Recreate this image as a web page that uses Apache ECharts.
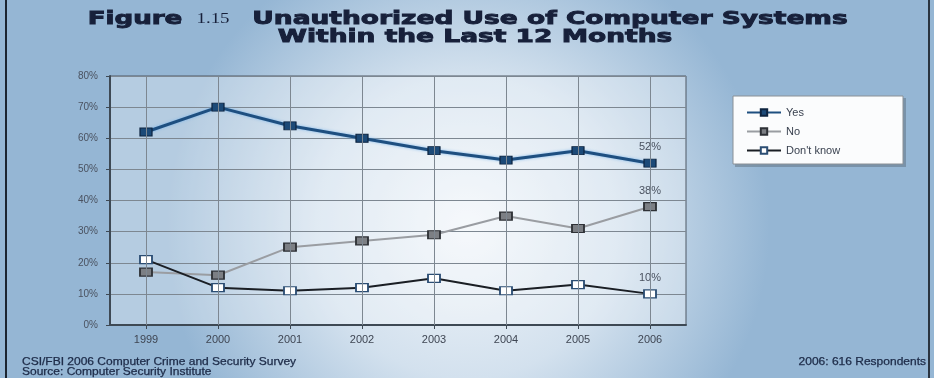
<!DOCTYPE html>
<html>
<head>
<meta charset="utf-8">
<style>
  html, body { margin: 0; padding: 0; background: #a9c4dc; }
  #chart { width: 934px; height: 378px; }
</style>
<script src="https://cdn.jsdelivr.net/npm/echarts@6/dist/echarts.min.js"></script>
</head>
<body>
<div id="chart"></div>
<script>
// Survey years and share of respondents (%)
const years = ['1999', '2000', '2001', '2002', '2003', '2004', '2005', '2006'];
const yesValues = [62, 70, 64, 60, 56, 53, 56, 52];
const noValues = [17, 16, 25, 27, 29, 35, 31, 38];
const dontKnowValues = [21, 12, 11, 12, 15, 11, 13, 10];
const seriesNames = ['Yes', 'No', "Don't know"];

const chart = echarts.init(document.getElementById('chart'), null, { renderer: 'canvas' });

const gridFont = 'Liberation Sans Narrow, Liberation Sans, Arial, sans-serif';
const titleInk = '#17203a';

// heavy, wide heading text
function heading(text, x, y, size, sx) {
  return {
    type: 'text', x: x, y: y, scaleX: sx, silent: true, z: 20,
    style: {
      text: text, textAlign: 'center', textVerticalAlign: 'top',
      fontFamily: 'DejaVu Sans', fontWeight: 'bold', fontSize: size,
      fill: titleInk, stroke: titleInk, lineWidth: 0.9
    }
  };
}

// label only the final point of a series
function lastLabel(values) {
  return {
    show: true,
    position: 'top',
    distance: 6,
    color: '#4a5260',
    fontSize: 11,
    fontFamily: gridFont,
    formatter: p => (p.dataIndex === values.length - 1 ? p.value + '%' : '')
  };
}

// vertical grid lines through each year
const yearLines = {
  silent: true,
  symbol: 'none',
  label: { show: false },
  lineStyle: { color: '#7d8791', width: 1, type: 'solid' },
  data: years.map(y => ({ xAxis: y }))
};

const option = {
  animation: false,
  graphic: [
    {
      type: 'rect', z: -10, silent: true,
      shape: { x: 0, y: 0, width: 934, height: 378 },
      style: {
        fill: {
          type: 'radial', x: 0.5, y: 0.6, r: 0.8,
          colorStops: [
            { offset: 0, color: '#f2f6fa' },
            { offset: 0.5, color: '#d3e1ee' },
            { offset: 1, color: '#95b6d4' }
          ]
        }
      }
    },
    {
      type: 'rect', z: -9, silent: true,
      shape: { x: 5, y: 0, width: 2, height: 378 },
      style: { fill: '#1b2430' }
    },
    {
      type: 'rect', z: -9, silent: true,
      shape: { x: 928, y: 0, width: 2, height: 378 },
      style: { fill: '#2a3440' }
    },
    heading('Figure', 135, 10, 18, 1.45),
    {
      type: 'text', x: 213, y: 12, scaleX: 1.35, silent: true, z: 20,
      style: {
        text: '1.15', textAlign: 'center', textVerticalAlign: 'top',
        fontFamily: 'Liberation Serif', fontSize: 14, fill: titleInk
      }
    },
    heading('Unauthorized Use of Computer Systems', 550, 10, 18, 1.47),
    heading('Within the Last 12 Months', 475, 28, 18, 1.47),
    {
      type: 'rect', silent: true, z: 4,
      shape: { x: 735, y: 98, width: 171, height: 69 },
      style: { fill: 'rgba(70,80,90,0.35)' }
    },
    {
      type: 'rect', silent: true, z: 5,
      shape: { x: 733, y: 96, width: 170, height: 68 },
      style: { fill: '#fbfcfd', stroke: '#8a9096', lineWidth: 1 }
    },
    {
      type: 'text', x: 22, y: 357, scaleX: 1.2, silent: true,
      style: {
        text: 'CSI/FBI 2006 Computer Crime and Security Survey\nSource: Computer Security Institute',
        fontFamily: 'Liberation Sans', fontSize: 10, fill: '#1d2b48', lineHeight: 10,
        stroke: '#1d2b48', lineWidth: 0.25
      }
    },
    {
      type: 'text', x: 926, y: 357, scaleX: 1.2, silent: true,
      style: {
        text: '2006: 616 Respondents', textAlign: 'right',
        fontFamily: 'Liberation Sans', fontSize: 10, fill: '#1d2b48',
        stroke: '#1d2b48', lineWidth: 0.25
      }
    }
  ],
  legend: {
    orient: 'vertical',
    left: 741,
    top: 102,
    z: 10,
    itemWidth: 34,
    itemHeight: 8,
    itemGap: 8,
    data: seriesNames,
    textStyle: { fontFamily: gridFont, fontSize: 11, color: '#3a4250' }
  },
  grid: {
    left: 110, right: 248, top: 76, bottom: 53,
    show: true,
    backgroundColor: 'rgba(255,255,255,0.3)',
    borderColor: '#4e5964', borderWidth: 1
  },
  xAxis: {
    type: 'category',
    data: years,
    boundaryGap: true,
    axisLine: { show: true, lineStyle: { color: '#3e4954', width: 2 } },
    axisTick: { show: true, alignWithLabel: true, length: 4, lineStyle: { color: '#3e4954' } },
    splitLine: { show: false },
    axisLabel: { color: '#3f4653', fontSize: 11, fontFamily: gridFont, margin: 9 }
  },
  yAxis: {
    type: 'value',
    min: 0, max: 80, interval: 10,
    axisLine: { show: true, lineStyle: { color: '#3e4954', width: 2 } },
    axisTick: { show: true, length: 4, lineStyle: { color: '#3e4954' } },
    splitLine: { show: true, lineStyle: { color: '#7d8791', width: 1 } },
    axisLabel: { color: '#4a5260', fontSize: 10, fontFamily: gridFont, margin: 12, formatter: '{value}%' }
  },
  series: [
    {
      name: 'Yes',
      type: 'line',
      data: yesValues,
      z: 4,
      symbol: 'rect', symbolSize: [12, 8],
      itemStyle: { color: '#1c4a78', borderColor: '#0e2440', borderWidth: 1 },
      lineStyle: { color: '#1e4f80', width: 3, shadowColor: 'rgba(120,180,235,0.9)', shadowBlur: 3 },
      label: lastLabel(yesValues),
      markLine: yearLines
    },
    {
      name: 'No',
      type: 'line',
      data: noValues,
      z: 3,
      symbol: 'rect', symbolSize: [12, 8],
      itemStyle: { color: '#7c7f84', borderColor: '#2e3136', borderWidth: 1.5 },
      lineStyle: { color: '#9a9da2', width: 2 },
      label: lastLabel(noValues)
    },
    {
      name: "Don't know",
      type: 'line',
      data: dontKnowValues,
      z: 3,
      symbol: 'rect', symbolSize: [12, 8],
      itemStyle: { color: '#ffffff', borderColor: '#2b4d73', borderWidth: 1.5 },
      lineStyle: { color: '#1a1e24', width: 2 },
      label: lastLabel(dontKnowValues)
    }
  ]
};

chart.setOption(option);
</script>
</body>
</html>
